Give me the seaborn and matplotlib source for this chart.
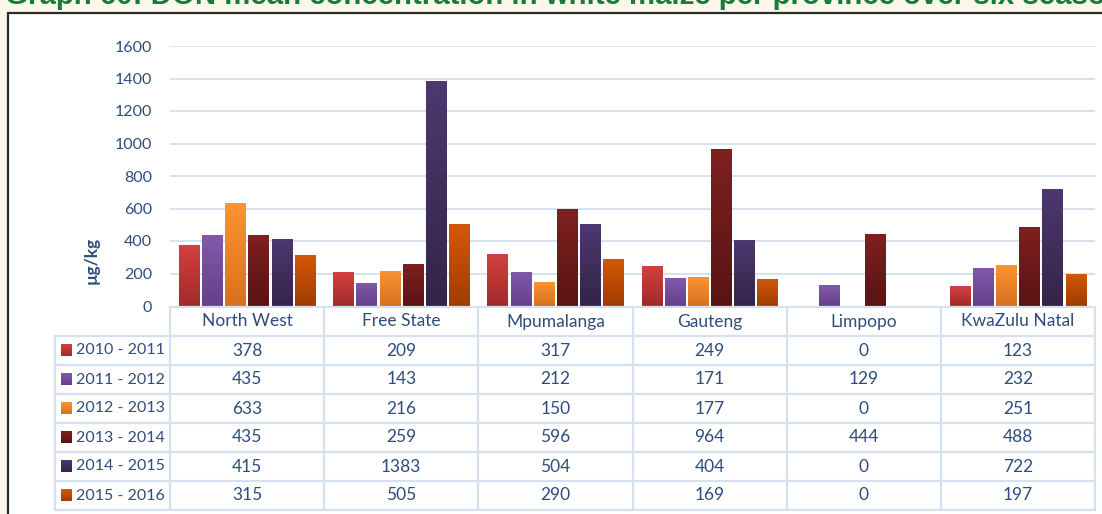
import numpy as np
import pandas as pd
import matplotlib
matplotlib.use("Agg")
import matplotlib.pyplot as plt
from matplotlib.colors import LinearSegmentedColormap
from matplotlib.patches import Rectangle
import seaborn as sns

provinces = ["North West", "Free State", "Mpumalanga", "Gauteng", "Limpopo", "KwaZulu Natal"]
seasons = ["2010 - 2011", "2011 - 2012", "2012 - 2013", "2013 - 2014", "2014 - 2015", "2015 - 2016"]
s2010 = [378, 209, 317, 249, 0, 123]
s2011 = [435, 143, 212, 171, 129, 232]
s2012 = [633, 216, 150, 177, 0, 251]
s2013 = [435, 259, 596, 964, 444, 488]
s2014 = [415, 1383, 504, 404, 0, 722]
s2015 = [315, 505, 290, 169, 0, 197]
series = [s2010, s2011, s2012, s2013, s2014, s2015]
yticks = [0, 200, 400, 600, 800, 1000, 1200, 1400, 1600]
title = "Graph 60: DON mean concentration in white maize per province over six seasons"
ylabel = "µg/kg"

tops = ["#D2413F", "#8258AC", "#FB9432", "#7E2020", "#4D3870", "#D45808"]
bottoms = ["#A22A2A", "#654189", "#D8711E", "#5A1313", "#342449", "#A03C02"]
mids = ["#BA3535", "#744D9B", "#EA8228", "#6C1A1A", "#412E5C", "#BA4A05"]

df = pd.DataFrame({
    "province": np.repeat([provinces], len(seasons), axis=0).ravel(),
    "season": np.repeat(seasons, len(provinces)),
    "value": np.concatenate(series),
})

sns.set_theme(style="white")
plt.rcParams["font.family"] = ["Lato", "DejaVu Sans"]
txt = "#2E4C7D"
grid = "#D5E1F1"

W, H = 1102, 514
fig = plt.figure(figsize=(W / 100, H / 100), dpi=100)
fig.patch.set_facecolor("#FBF7EA")

# white box
box = Rectangle((8 / W, -0.1), 1.2, (H - 13) / H + 0.1, transform=fig.transFigure,
                facecolor="white", edgecolor="#2A2A2A", lw=1.6, zorder=-10)
fig.add_artist(box)
fig.text(5 / W, 1 - 4 / H, title, color="#1A7A3A", fontsize=21.2, fontweight="bold",
         family="Liberation Sans", va="baseline", ha="left", zorder=-5)

x0, x1 = 170, 1095
ax = fig.add_axes([x0 / W, (H - 306) / H, (x1 - x0) / W, 260 / H])
ax.set_facecolor("none")
sns.barplot(data=df, x="province", y="value", hue="season", hue_order=seasons,
            order=provinces, palette=mids, width=0.9, gap=0.12, legend=False, ax=ax,
            zorder=3, err_kws={"linewidth": 0})
ax.set_xlim(-0.5, 5.5)
ax.set_ylim(0, 1600)

for i, cont in enumerate(ax.containers):
    cmap = LinearSegmentedColormap.from_list("g%d" % i, [bottoms[i], tops[i]])
    for p in cont.patches:
        bx, bw, bh = p.get_x(), p.get_width(), p.get_height()
        if bh <= 0:
            p.set_visible(False)
            continue
        grad = np.linspace(1, 0, 64).reshape(-1, 1)
        im = ax.imshow(grad, cmap=cmap, extent=[bx, bx + bw, 0, bh], aspect="auto",
                       zorder=4, vmin=0, vmax=1)
        im.set_clip_path(p)
        p.set_facecolor("none")
        p.set_edgecolor("none")
ax.set_xlim(-0.5, 5.5)
ax.set_ylim(0, 1600)

ax.set_yticks(yticks)
ax.set_yticklabels([str(t) for t in yticks])
ax.tick_params(axis="y", length=0, pad=13, labelsize=11.5, labelcolor=txt)
ax.set_xticks([])
ax.set_xlabel("")
ax.set_ylabel(ylabel, fontsize=12.5, fontweight="bold", color=txt)
ax.yaxis.set_label_coords((100 - x0) / (x1 - x0), (306 - 260) / 260)
for t in yticks[1:]:
    ax.axhline(t, color=grid, lw=1.4, zorder=1)
for s in ax.spines.values():
    s.set_visible(False)

# data table
tax = fig.add_axes([x0 / W, (H - 510) / H, (x1 - x0) / W, 203 / H])
tax.set_xlim(-0.5, 5.5)
tax.set_ylim(0, 7)
tax.axis("off")
px = 6 / (x1 - x0)
left = -0.5 - (x0 - 55) * px
lc = dict(color=grid, lw=1.6, clip_on=False)
for r in range(0, 7):
    tax.plot([left, 5.5], [r, r], **lc)
tax.plot([-0.5, 5.5], [7, 7], **lc)
for c in range(7):
    tax.plot([c - 0.5, c - 0.5], [0, 7], **lc)
tax.plot([left, left], [0, 6], **lc)

for j, p in enumerate(provinces):
    tax.text(j, 6.5, p, ha="center", va="center", fontsize=12.5, color=txt)
for i, (s, vals) in enumerate(zip(seasons, series)):
    yc = 5.5 - i
    sq = 11 * px
    sx = -0.5 - (x0 - 61) * px
    cmap = LinearSegmentedColormap.from_list("l%d" % i, [bottoms[i], tops[i]])
    tax.imshow(np.linspace(1, 0, 32).reshape(-1, 1), cmap=cmap, aspect="auto",
               extent=[sx, sx + sq, yc - 0.19, yc + 0.19], clip_on=False, vmin=0, vmax=1)
    tax.text(-0.5 - (x0 - 76) * px, yc, s, ha="left", va="center", fontsize=11.5, color=txt)
    for j, v in enumerate(vals):
        tax.text(j, yc, str(v), ha="center", va="center", fontsize=12.5, color=txt)
tax.set_xlim(-0.5, 5.5)
tax.set_ylim(0, 7)

fig.savefig("out.png", dpi=100, facecolor=fig.get_facecolor())
